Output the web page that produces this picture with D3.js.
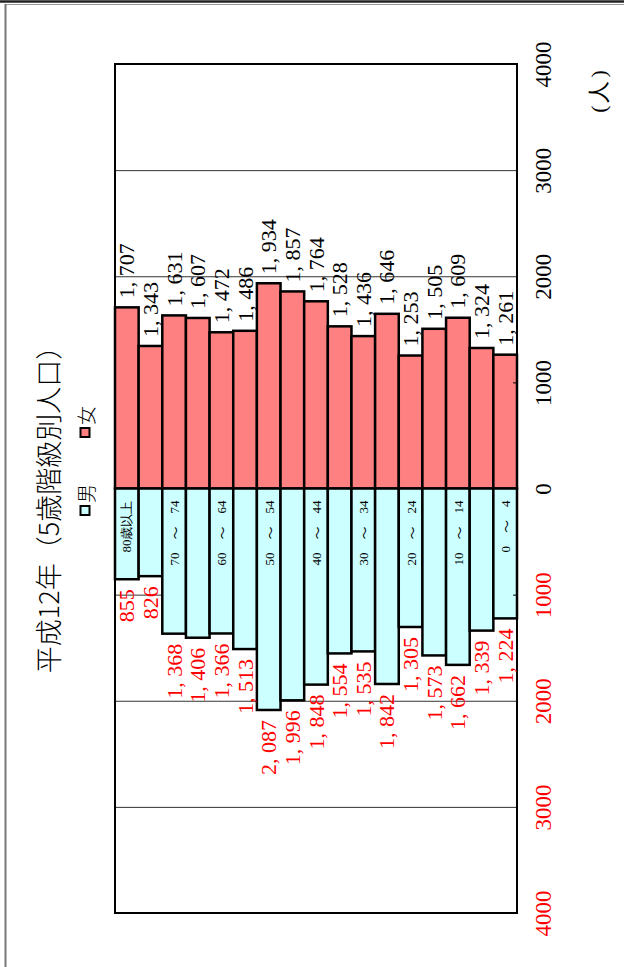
<!DOCTYPE html>
<html>
<head>
<meta charset="utf-8">
<script src="https://cdn.jsdelivr.net/npm/d3@7"></script>
<style>
  body { margin: 0; background: #fff; }
  svg { display: block; }
  .serif { font-family: "Liberation Serif", "DejaVu Serif", serif; }
  .jp { font-family: "Noto Sans CJK JP", sans-serif; }
</style>
</head>
<body>
<svg id="chart" width="624" height="967"></svg>
<script>
// age groups, oldest first (left to right in the picture)
let ages = ["80歳以上", "75～79", "70～74", "65～69", "60～64", "55～59", "50～54", "45～49",
            "40～44", "35～39", "30～34", "25～29", "20～24", "15～19", "10～14", "5～9", "0～4"],
  female = [1707, 1343, 1631, 1607, 1472, 1486, 1934, 1857, 1764, 1528, 1436, 1646, 1253, 1505, 1609, 1324, 1261],
  male = [855, 826, 1368, 1406, 1366, 1513, 2087, 1996, 1848, 1554, 1535, 1842, 1305, 1573, 1662, 1339, 1224],
  // only every other group gets a label inside the bar
  shown_ages = ["80歳以上", "70～74", "60～64", "50～54", "40～44", "30～34", "20～24", "10～14", "0～4"],
  ticks = [0, 1000, 2000, 3000, 4000],
  title = "平成12年（5歳階級別人口）",
  unit = "(人)";

// no d3-selection-multi here, so a tiny stand-in
d3.selection.prototype.attrs = function(o) {
  Object.entries(o).forEach(([k, v]) => this.attr(k, v));
  return this;
}

let plot = {left: 115, right: 517, top: 64, bottom: 913},
  zero = (plot.top + plot.bottom) / 2,
  svg = d3.select("#chart");

let x = d3.scaleBand().domain(ages).range([plot.left, plot.right]).padding(0),
  yF = d3.scaleLinear().domain([0, 4000]).range([zero, plot.top]),
  yM = d3.scaleLinear().domain([0, 4000]).range([zero, plot.bottom]);

let fmt = v => d3.format(",")(v).replace(",", ", ");

// page border
svg.append("line").attrs({x1: 0, x2: 624, y1: 1.5, y2: 1.5, stroke: "#222", "stroke-width": 2.5})
svg.append("line").attrs({x1: 5, x2: 624, y1: 4.5, y2: 4.5, stroke: "#999", "stroke-width": 1})
svg.append("line").attrs({x1: 5.5, x2: 5.5, y1: 4, y2: 967, stroke: "#777", "stroke-width": 2})

// gridlines
let grid = svg.append("g");
[yF, yM].forEach(s => {
  grid.append("g")
    .attr("transform", `translate(${plot.right}, 0)`)
    .call(d3.axisLeft(s).tickValues(ticks.slice(1, 4)).tickSize(plot.right - plot.left).tickFormat(""))
    .call(g => g.select(".domain").remove())
    .call(g => g.selectAll("line").attrs({stroke: "#333", "stroke-width": 1}))
})

// bars
svg.append("g").selectAll("rect")
  .data(ages).enter()
  .append("rect")
  .attrs({
    x: d => x(d),
    width: x.bandwidth(),
    y: (d, i) => yF(female[i]),
    height: (d, i) => yF(0) - yF(female[i]),
    fill: "#ff8080", stroke: "#000", "stroke-width": 2.5
  })
svg.append("g").selectAll("rect")
  .data(ages).enter()
  .append("rect")
  .attrs({
    x: d => x(d),
    width: x.bandwidth(),
    y: yM(0),
    height: (d, i) => yM(male[i]) - yM(0),
    fill: "#ccffff", stroke: "#000", "stroke-width": 2.5
  })

// plot frame
svg.append("rect").attrs({
  x: plot.left, y: plot.top, width: plot.right - plot.left, height: plot.bottom - plot.top,
  fill: "none", stroke: "#000", "stroke-width": 2
})

// small ticks on the value axis
svg.append("g").attr("transform", `translate(${plot.right}, 0)`)
  .call(d3.axisLeft(yF).tickValues([1000]).tickSize(4).tickFormat(""))
  .call(g => g.select(".domain").remove())
svg.append("g").attr("transform", `translate(${plot.right}, 0)`)
  .call(d3.axisLeft(yM).tickValues([1000]).tickSize(4).tickFormat(""))
  .call(g => g.select(".domain").remove())

// value axis labels, rotated like the rest of the page
function tick_labels(scale, values, color) {
  svg.append("g")
    .attr("transform", `translate(${plot.right}, 0)`)
    .call(d3.axisRight(scale).tickValues(values).tickSize(0).tickFormat(d3.format("d")))
    .call(g => g.select(".domain").remove())
    .call(g => g.selectAll("text")
      .attrs({x: 0, dy: null, class: "serif", "text-anchor": "middle", fill: color, transform: "translate(26,0) rotate(-90)"})
      .style("font-size", "23px")
      .attr("dominant-baseline", "central"))
}
tick_labels(yF, ticks, "#000")
tick_labels(yM, ticks.slice(1), "#ff0000")

// data labels
svg.append("g").selectAll("text")
  .data(ages).enter()
  .append("text")
  .attr("class", "serif")
  .attrs({
    transform: (d, i) => `translate(${x(d) + x.bandwidth() / 2}, ${yF(female[i]) - 9}) rotate(-90)`,
    "text-anchor": "start", "dominant-baseline": "central", fill: "#000"
  })
  .style("font-size", "22px")
  .text((d, i) => fmt(female[i]))
svg.append("g").selectAll("text")
  .data(ages).enter()
  .append("text")
  .attr("class", "serif")
  .attrs({
    transform: (d, i) => `translate(${x(d) + x.bandwidth() / 2}, ${yM(male[i]) + 10}) rotate(-90)`,
    "text-anchor": "end", "dominant-baseline": "central", fill: "#ff0000"
  })
  .style("font-size", "22px")
  .text((d, i) => fmt(male[i]))

// age group labels inside the male bars, the wave dash set in the CJK font
let age_labels = svg.append("g").selectAll("text")
  .data(shown_ages).enter()
  .append("text")
  .attr("class", "serif")
  .attrs({
    transform: d => `translate(${x(d) + x.bandwidth() / 2}, ${zero + 12}) rotate(-90)`,
    "text-anchor": "end", "dominant-baseline": "central", fill: "#000"
  })
  .style("font-size", "13px")
  .style("white-space", "pre")
age_labels.each(function(d) {
  let t = d3.select(this), parts = d.split("～");
  if (parts.length == 1) { t.text(d); return }
  t.append("tspan").text(parts[0] + "\u2002\u2002")
  t.append("tspan").attr("class", "jp").text("～")
  t.append("tspan").text("\u2002\u2002" + parts[1])
})

// title, legend and unit
svg.append("text").attr("class", "jp")
  .attrs({transform: "translate(47, 503) rotate(-90)", "text-anchor": "middle", "dominant-baseline": "central"})
  .style("font-size", "27px")
  .style("font-weight", 300)
  .text(title)

let legend = svg.append("g").attr("transform", "translate(85, 515) rotate(-90)"),
  items = [{name: "男", color: "#ccffff"}, {name: "女", color: "#ff8080"}];
items.forEach((it, i) => {
  let g = legend.append("g").attr("transform", `translate(${i * 78}, 0)`);
  g.append("rect").attrs({x: 0, y: -4.5, width: 9, height: 9, fill: it.color, stroke: "#000", "stroke-width": 2})
  g.append("text").attr("class", "jp")
    .attrs({x: 12, y: 0, "dominant-baseline": "central"})
    .style("font-size", "19px")
    .style("font-weight", 300)
    .text(it.name)
})

svg.append("text").attr("class", "serif")
  .attrs({transform: "translate(598, 90) rotate(-90)", "text-anchor": "middle", "dominant-baseline": "central"})
  .style("font-size", "22px")
  .style("letter-spacing", "3px")
  .text(unit)
</script>
</body>
</html>
